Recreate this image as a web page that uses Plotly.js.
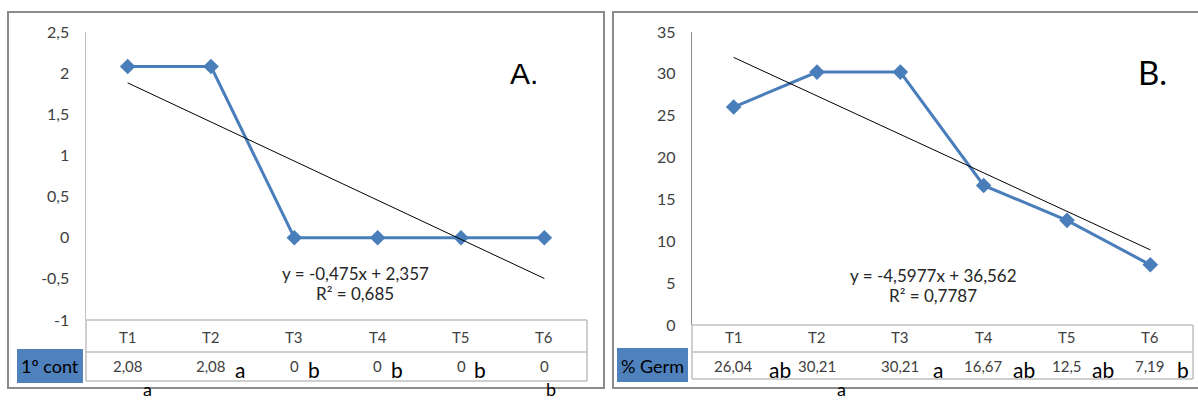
<!DOCTYPE html>
<html>
<head>
<meta charset="utf-8">
<script src="https://cdn.plot.ly/plotly-3.0.1.min.js"></script>
<style>html,body{margin:0;padding:0;background:#fff;}#chart{width:1198px;height:400px;}</style>
</head>
<body>
<div id="chart"></div>
<script>
// ---- data ----
const categories = ['T1', 'T2', 'T3', 'T4', 'T5', 'T6'];
const contValues = [2.08, 2.08, 0, 0, 0, 0];
const germValues = [26.04, 30.21, 30.21, 16.67, 12.5, 7.19];
const contLabels = ['2,08', '2,08', '0', '0', '0', '0'];
const germLabels = ['26,04', '30,21', '30,21', '16,67', '12,5', '7,19'];
const contLetters = ['', 'a', 'b', 'b', 'b', ''];
const germLetters = ['ab', '', 'a', 'ab', 'ab', 'b'];
const contBelow = ['a', '', '', '', '', 'b'];
const germBelow = ['', 'a', '', '', '', ''];
const ticksA = [-1, -0.5, 0, 0.5, 1, 1.5, 2, 2.5];
const tickTextA = ['-1', '-0,5', '0', '0,5', '1', '1,5', '2', '2,5'];
const ticksB = [0, 5, 10, 15, 20, 25, 30, 35];
const tickTextB = ['0', '5', '10', '15', '20', '25', '30', '35'];
const eqA = ['y = -0,475x + 2,357', 'R² = 0,685'];
const eqB = ['y = -4,5977x + 36,562', 'R² = 0,7787'];
const rowNameA = '1º cont';
const rowNameB = '% Germ';

// ---- layout helpers ----
const W = 1198, H = 400;
const px = x => x / W;
const py = y => 1 - y / H;
const xs = categories.map((c, i) => i + 1);

function fit(x, y) {
  const n = x.length;
  const mx = x.reduce((a, b) => a + b, 0) / n;
  const my = y.reduce((a, b) => a + b, 0) / n;
  let sxy = 0, sxx = 0;
  for (let i = 0; i < n; i++) { sxy += (x[i] - mx) * (y[i] - my); sxx += (x[i] - mx) ** 2; }
  const m = sxy / sxx;
  return { m: m, b: my - m * mx };
}
const fA = fit(xs, contValues), fB = fit(xs, germValues);
const tx = [xs[0], xs[xs.length - 1]];

const blue = '#4A7EBB';
const FONT = 'Lato, "Open Sans", sans-serif';
const txtCol = '#404040';

const traces = [
  { x: xs, y: contValues, xaxis: 'x', yaxis: 'y', mode: 'lines+markers', line: { color: blue, width: 3 },
    marker: { symbol: 'diamond', size: 12, color: blue }, hoverinfo: 'none' },
  { x: tx, y: tx.map(v => fA.m * v + fA.b), xaxis: 'x', yaxis: 'y', mode: 'lines', line: { color: '#000', width: 1 }, hoverinfo: 'none' },
  { x: xs, y: germValues, xaxis: 'x2', yaxis: 'y2', mode: 'lines+markers', line: { color: blue, width: 3 },
    marker: { symbol: 'diamond', size: 12, color: blue }, hoverinfo: 'none' },
  { x: tx, y: tx.map(v => fB.m * v + fB.b), xaxis: 'x2', yaxis: 'y2', mode: 'lines', line: { color: '#000', width: 1 }, hoverinfo: 'none' }
];

const annotations = [];
const shapes = [];

function panel(cfg) {
  shapes.push({ type: 'rect', xref: 'paper', yref: 'paper', x0: px(cfg.frame[0]), x1: px(cfg.frame[2]), y0: py(cfg.frame[3]), y1: py(cfg.frame[1]),
    line: { color: '#8C8C8C', width: 2 }, fillcolor: 'rgba(0,0,0,0)', layer: 'below' });
  const tl = cfg.tableL, tr = cfg.tableR;
  cfg.rows.forEach(y => {
    shapes.push({ type: 'line', xref: 'paper', yref: 'paper', x0: px(tl), x1: px(tr), y0: py(y), y1: py(y), line: { color: '#BFBFBF', width: 1.5 } });
  });
  [tl, tr].forEach(x => {
    shapes.push({ type: 'line', xref: 'paper', yref: 'paper', x0: px(x), x1: px(x), y0: py(cfg.rows[0]), y1: py(cfg.rows[2]), line: { color: '#BFBFBF', width: 1.5 } });
  });
  shapes.push({ type: 'rect', xref: 'paper', yref: 'paper', x0: px(cfg.box[0]), x1: px(cfg.box[2]), y0: py(cfg.box[3]), y1: py(cfg.box[1]),
    line: { width: 0 }, fillcolor: '#4F81BD' });
  annotations.push({ xref: 'paper', yref: 'paper', x: px((cfg.box[0] + cfg.box[2]) / 2), y: py(366), text: cfg.rowName, showarrow: false,
    font: { family: FONT, size: 18, color: '#000' }, xanchor: 'center', yanchor: 'middle' });
  categories.forEach((c, i) => {
    annotations.push({ xref: cfg.xref, yref: 'paper', x: xs[i], y: py(337), text: c, showarrow: false,
      font: { family: FONT, size: 15, color: txtCol }, xanchor: 'center', yanchor: 'middle' });
    annotations.push({ xref: cfg.xref, yref: 'paper', x: xs[i], y: py(366), text: cfg.labels[i], showarrow: false,
      font: { family: FONT, size: 15, color: txtCol }, xanchor: 'center', yanchor: 'middle' });
    if (cfg.letters[i]) annotations.push({ xref: cfg.xref, yref: 'paper', x: xs[i], xshift: cfg.letterShift[i], y: py(369), text: cfg.letters[i], showarrow: false,
      font: { family: FONT, size: 21, color: '#000' }, xanchor: 'center', yanchor: 'middle' });
    if (cfg.below[i]) annotations.push({ xref: cfg.xref, yref: 'paper', x: xs[i], xshift: cfg.belowShift[i], y: py(389), text: cfg.below[i], showarrow: false,
      font: { family: FONT, size: 18, color: '#000' }, xanchor: 'center', yanchor: 'middle' });
  });
  annotations.push({ xref: 'paper', yref: 'paper', x: px(cfg.eqX), y: py(cfg.eqY), text: cfg.eq[0], showarrow: false,
    font: { family: FONT, size: 17, color: '#262626' }, xanchor: 'center', yanchor: 'middle' });
  annotations.push({ xref: 'paper', yref: 'paper', x: px(cfg.eqX), y: py(cfg.eqY + 20), text: cfg.eq[1], showarrow: false,
    font: { family: FONT, size: 17, color: '#262626' }, xanchor: 'center', yanchor: 'middle' });
  annotations.push({ xref: 'paper', yref: 'paper', x: px(cfg.tag[1]), y: py(cfg.tag[2]), text: cfg.tag[0], showarrow: false,
    font: { family: cfg.tagFont, size: cfg.tag[3], color: '#000' }, xanchor: 'center', yanchor: 'middle' });
}

panel({ frame: [8, 12, 604, 388], tableL: 86, tableR: 587, rows: [320, 352, 381], box: [17, 349, 83, 383], rowName: rowNameA,
  xref: 'x', labels: contLabels, letters: contLetters, letterShift: [0, 29, 20, 19, 19, 0], below: contBelow, belowShift: [20, 0, 0, 0, 0, 7],
  eqX: 355, eqY: 273, eq: eqA, tag: ['A.', 524, 73, 30], tagFont: '"Liberation Sans", Arial, sans-serif' });
panel({ frame: [613, 12, 1199, 388], tableL: 692, tableR: 1193, rows: [325, 352, 379], box: [617, 348, 688, 382], rowName: rowNameB,
  xref: 'x2', labels: germLabels, letters: germLetters, letterShift: [46, 0, 38, 40, 36, 33], below: germBelow, belowShift: [0, 24, 0, 0, 0, 0],
  eqX: 933, eqY: 275, eq: eqB, tag: ['B.', 1152, 72, 33], tagFont: FONT });

const baseX = { range: [0.5, 6.5], showline: false, showgrid: false, zeroline: false, showticklabels: false, ticks: '', fixedrange: true };
const baseY = { showgrid: false, zeroline: false, showline: true, ticks: 'outside', ticklen: 12, tickcolor: 'rgba(0,0,0,0)',
  tickfont: { family: FONT, size: 16, color: txtCol }, fixedrange: true };

const layout = {
  width: W, height: H, margin: { l: 0, r: 0, t: 0, b: 0 }, showlegend: false,
  paper_bgcolor: '#fff', plot_bgcolor: 'rgba(0,0,0,0)',
  xaxis: Object.assign({}, baseX, { domain: [px(86), px(586)], anchor: 'y' }),
  yaxis: Object.assign({}, baseY, { domain: [py(320), py(32)], range: [-1, 2.5], tickvals: ticksA, ticktext: tickTextA, linecolor: '#BFBFBF', linewidth: 1.5, anchor: 'x' }),
  xaxis2: Object.assign({}, baseX, { domain: [px(692), px(1192)], anchor: 'y2' }),
  yaxis2: Object.assign({}, baseY, { domain: [py(325), py(32)], range: [0, 35], tickvals: ticksB, ticktext: tickTextB, linecolor: '#8C8C8C', linewidth: 1.2, anchor: 'x2' }),
  shapes: shapes, annotations: annotations
};

Plotly.newPlot('chart', traces, layout, { displayModeBar: false, staticPlot: true });
</script>
</body>
</html>
